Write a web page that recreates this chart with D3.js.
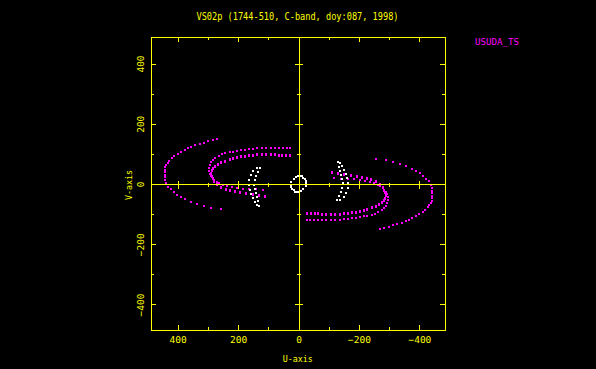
<!DOCTYPE html>
<html><head><meta charset="utf-8">
<script src="https://cdn.jsdelivr.net/npm/d3@7"></script>
<style>html,body{margin:0;padding:0;background:#000;}svg{display:block;}text{font-family:"DejaVu Sans Mono",monospace;}</style>
</head><body><svg id="c" width="596" height="369"></svg>
<script>
const titleText = "VS02p (1744-510, C-band, doy:087, 1998)";
const stationLabel = "USUDA_TS";
const xLabel = "U-axis";
const yLabel = "V-axis";
const majorTicks = [400, 200, -200, -400];
const minorTicks = [300, 100, -100, -300];
const labelTicks = [400, 200, 0, -200, -400];

// uv points (one half; conjugates (-u,-v) are also plotted)
const outerTrack = [[269,150],[284,146],[300,142],[314,137],[326,133],[341,128],[355,123],[367,118],[377,113],[389,107],[400,101],[412,94],[420,86],[427,78],[432,71],[437,63],[441,55],[442,47],[443,39],[443,31],[443,23],[443,14],[438,4],[432,-9],[423,-18],[413,-28],[402,-37],[389,-43],[374,-50],[356,-59],[336,-66],[313,-72],[288,-79],[258,-83]];
const trackA = [[27,118],[37,118],[51,120],[65,120],[78,120],[91,121],[108,121],[122,120],[136,118],[150,117],[164,116],[177,114],[190,112],[205,110],[216,107],[227,105],[242,102],[253,98],[264,94],[275,87],[284,81],[290,73],[294,64],[296,54],[295,44],[292,34],[289,28],[284,21],[279,13],[270,8],[262,3],[249,-2],[236,-7],[219,-10],[203,-12],[183,-15],[163,-16],[140,-17],[117,-19]];
const trackB = [[27,97],[41,97],[54,97],[65,97],[78,98],[91,100],[108,100],[122,100],[136,98],[150,97],[164,96],[177,94],[190,92],[205,88],[216,85],[227,83],[242,77],[256,73],[266,67],[275,61],[282,53],[286,45],[290,37],[287,28],[284,19],[279,11],[269,-1],[256,-9],[240,-15],[226,-19],[209,-22],[193,-26],[173,-29],[150,-32],[130,-36],[110,-39]];
const shortTrack = [[14,18],[9,23],[3,27],[-4,28],[-11,25],[-16,21],[-20,15],[-24,9],[-25,2],[-24,-5]];
const crescentA = [[137,54],[150,44],[158,31],[163,14],[165,-2],[161,-19],[156,-32],[151,-46],[145,-59],[137,-70]];
const crescentB = [[127,52],[135,39],[140,26],[145,13],[146,-2],[145,-17],[141,-31],[138,-44],[135,-57],[130,-74]];

const W = 596, H = 369;
const YEL = "#ffff00", MAG = "#ff00ff", WHT = "#ffffff";
const x = d3.scaleLinear().domain([488, -488]).range([151, 446]);
const y = d3.scaleLinear().domain([-488, 488]).range([331, 37]);
const svg = d3.select("#c");
svg.append("rect").attr("width", W).attr("height", H).attr("fill", "#000");

// points
function plotPoints(arr, color, h) {
  const pts = arr.concat(arr.map(d => [-d[0], -d[1]]));
  svg.append("g").selectAll("rect").data(pts).join("rect")
    .attr("x", d => Math.round(x(d[0])) - 1)
    .attr("y", d => Math.round(y(d[1])) - 1)
    .attr("width", 2).attr("height", h)
    .attr("fill", color).attr("shape-rendering", "crispEdges");
}
plotPoints(outerTrack, MAG, 2);
plotPoints(trackA, MAG, 2);
plotPoints(trackB, MAG, 3);
plotPoints(shortTrack, WHT, 2);
plotPoints(crescentA, WHT, 2);
plotPoints(crescentB, WHT, 2);

// frame
const x0 = x.range()[0], x1 = x.range()[1], y0 = y.range()[1], y1 = y.range()[0];
svg.append("rect").attr("x", x0 + 0.5).attr("y", y0 + 0.5)
  .attr("width", x1 - x0 - 1).attr("height", y1 - y0 - 1)
  .attr("fill", "none").attr("stroke", YEL).attr("shape-rendering", "crispEdges");
// zero lines
svg.append("line").attr("x1", x0).attr("x2", x1).attr("y1", y(0) + 0.5).attr("y2", y(0) + 0.5)
  .attr("stroke", YEL).attr("shape-rendering", "crispEdges");
svg.append("line").attr("x1", x(0) + 0.5).attr("x2", x(0) + 0.5).attr("y1", y0).attr("y2", y1)
  .attr("stroke", YEL).attr("shape-rendering", "crispEdges");

function ticks(gen, tx, ty, vals, size) {
  svg.append("g").attr("transform", `translate(${tx},${ty})`)
    .call(gen.tickValues(vals).tickSize(size).tickFormat(""))
    .call(g => g.select(".domain").remove())
    .call(g => g.selectAll("line").attr("stroke", YEL).attr("shape-rendering", "crispEdges"));
}
[[majorTicks, -5], [minorTicks, -3]].forEach(([v, s]) => {
  ticks(d3.axisBottom(x), 0, y1 - 1, v, s);
  ticks(d3.axisTop(x), 0, y0, v, s);
  ticks(d3.axisLeft(y), x0, 0, v, s);
  ticks(d3.axisRight(y), x1 - 1, 0, v, s);
});
[[majorTicks, 4.5], [minorTicks, 2.5]].forEach(([v, s]) => {
  ticks(d3.axisBottom(x), 0, y(0), v, s);
  ticks(d3.axisTop(x), 0, y(0) + 1, v, s);
  ticks(d3.axisLeft(y), x(0) + 1, 0, v, s);
  ticks(d3.axisRight(y), x(0), 0, v, s);
});

const fs = 9.5;
const fmt = d3.format("d");
svg.append("g").selectAll("text").data(labelTicks).join("text")
  .attr("x", d => x(d) + 0.5).attr("y", 342.7)
  .attr("text-anchor", "middle").attr("font-size", fs).attr("fill", YEL)
  .text(d => fmt(d));
svg.append("g").selectAll("text").data(labelTicks).join("text")
  .attr("transform", d => `translate(144.3,${y(d) + 0.5}) rotate(-90)`)
  .attr("text-anchor", "middle").attr("font-size", fs).attr("fill", YEL)
  .text(d => fmt(d));

svg.append("text").attr("x", 297.5).attr("y", 20).attr("text-anchor", "middle")
  .attr("font-size", 10.5).attr("fill", YEL)
  .attr("textLength", 202).attr("lengthAdjust", "spacingAndGlyphs").text(titleText);
svg.append("text").attr("x", 475).attr("y", 45).attr("font-size", fs).attr("fill", MAG)
  .attr("textLength", 44).attr("lengthAdjust", "spacingAndGlyphs").text(stationLabel);
svg.append("text").attr("x", 297.7).attr("y", 362.3).attr("text-anchor", "middle")
  .attr("font-size", fs).attr("fill", YEL)
  .attr("textLength", 30).attr("lengthAdjust", "spacingAndGlyphs").text(xLabel);
svg.append("text").attr("transform", "translate(131.7,185) rotate(-90)").attr("text-anchor", "middle")
  .attr("font-size", fs).attr("fill", YEL)
  .attr("textLength", 30).attr("lengthAdjust", "spacingAndGlyphs").text(yLabel);
</script></body></html>
